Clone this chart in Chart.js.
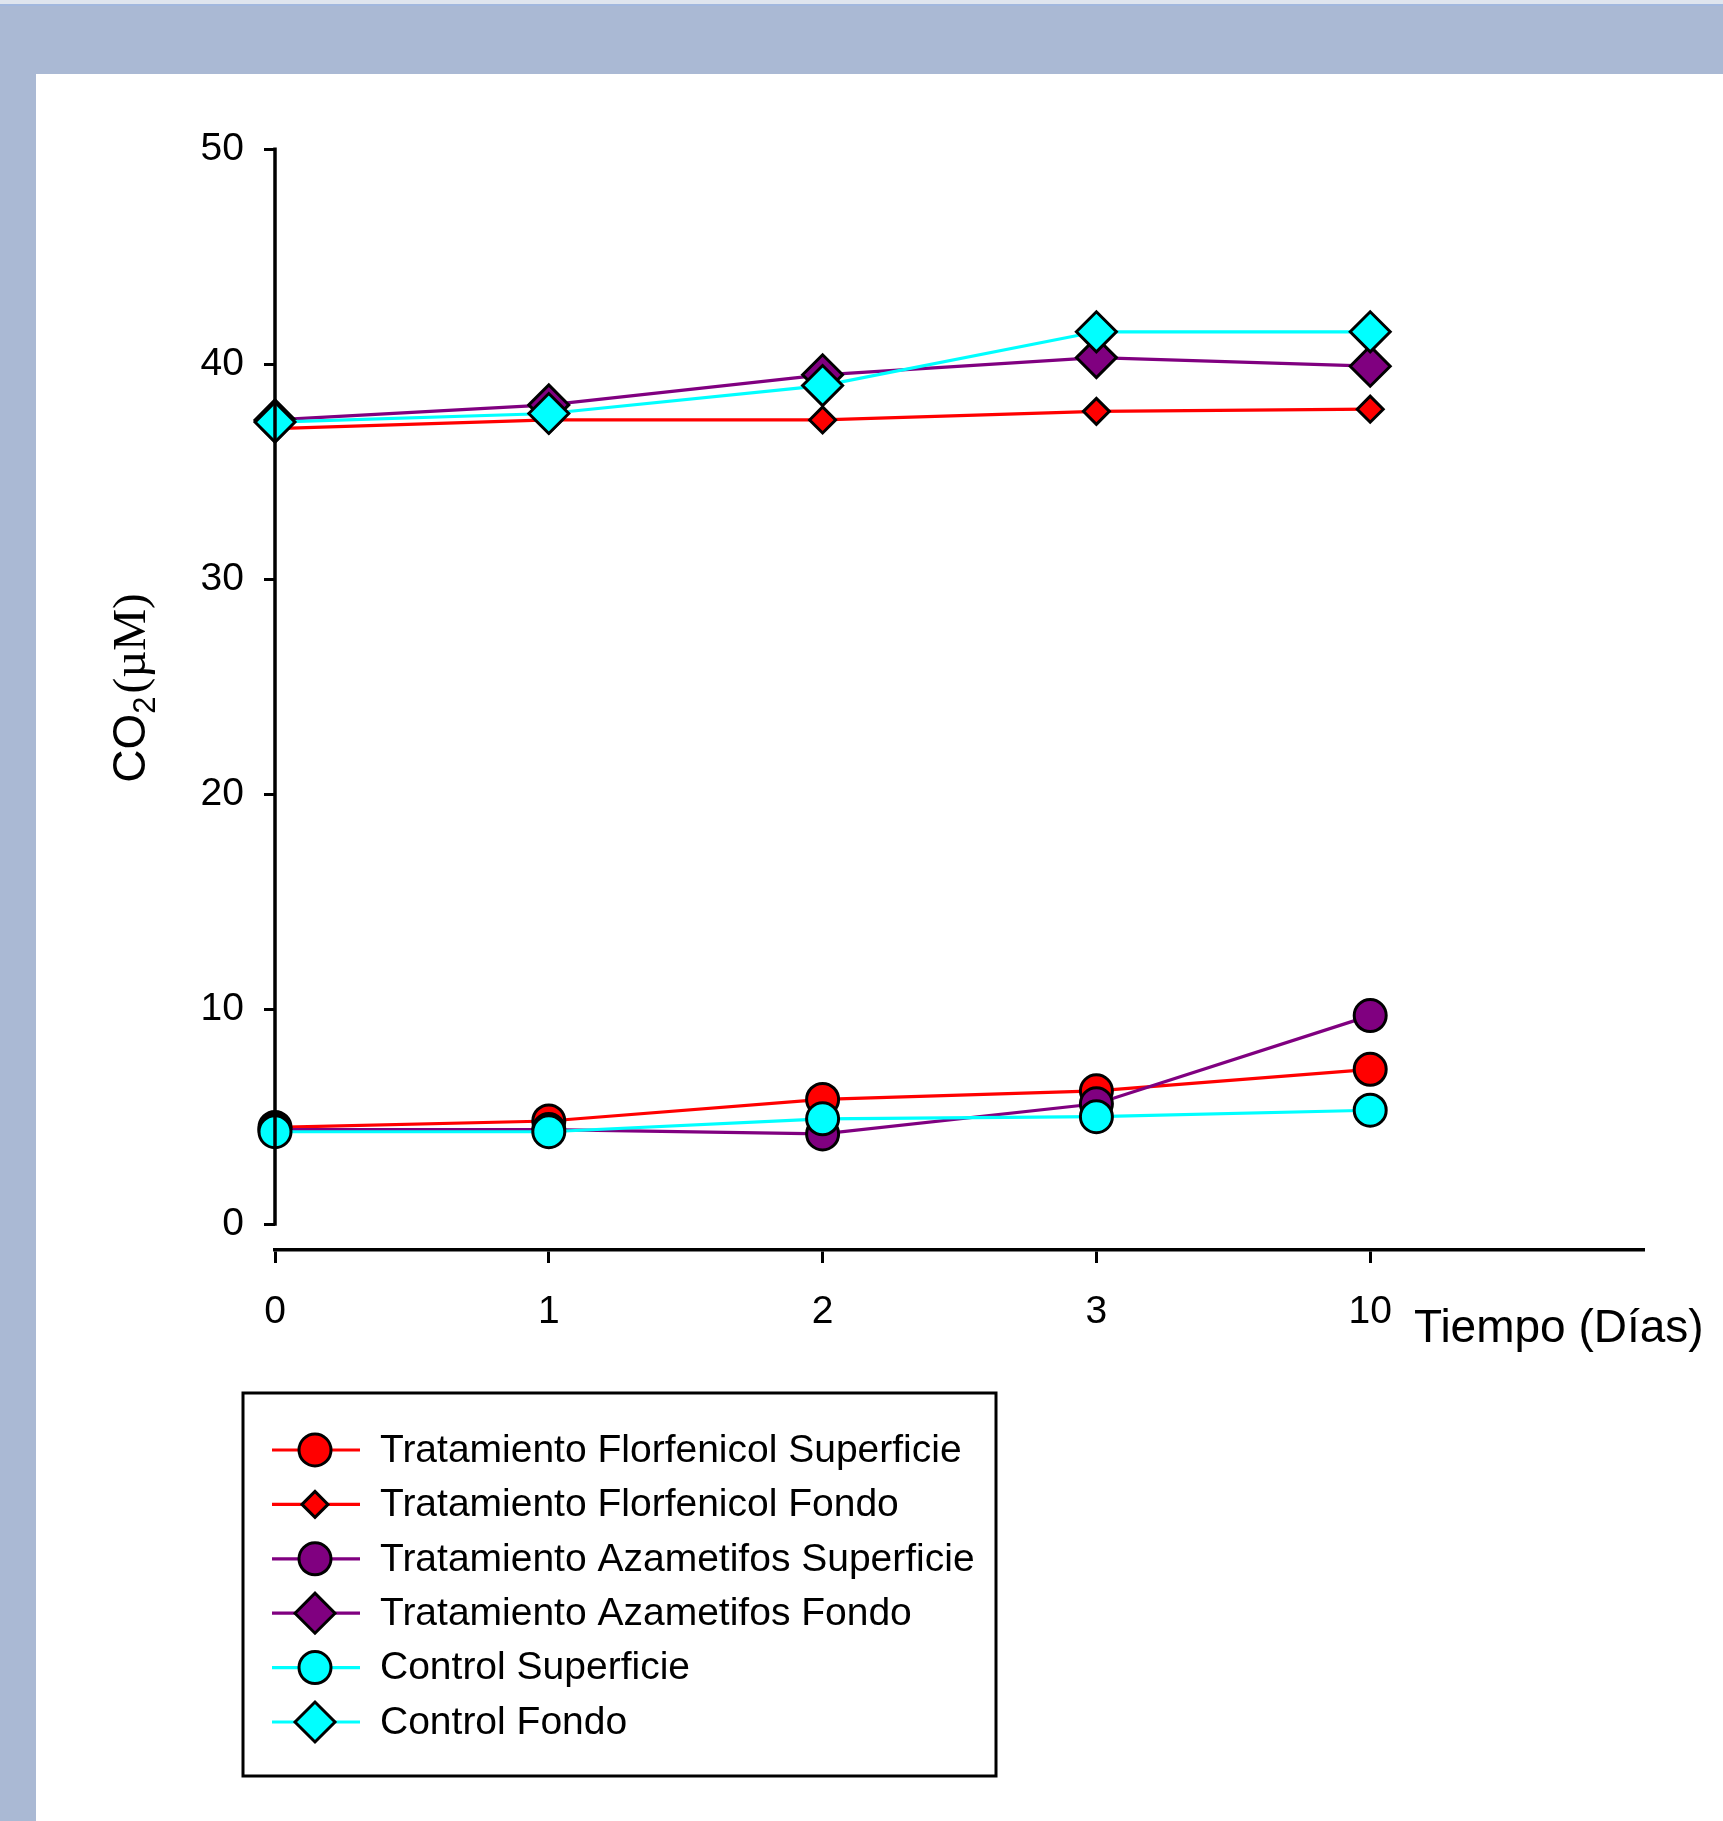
<!DOCTYPE html>
<html>
<head>
<meta charset="utf-8">
<title>CO2 (µM) vs Tiempo (Días)</title>
<script src="https://cdn.jsdelivr.net/npm/chart.js@4.4.1/dist/chart.umd.min.js"></script>
<style>
  html, body { margin: 0; padding: 0; overflow: hidden; width: 1723px; height: 1821px; background: #aab9d4; }
  #topline1 { position: absolute; left: 0; top: 0; width: 1723px; height: 4px; background: #dfe5ee; }
  #topline2 { position: absolute; left: 0; top: 4px; width: 1723px; height: 2px; background: #a2b8de; }
  #panel { position: absolute; left: 36px; top: 74px; right: 0; bottom: 0; background: #ffffff; }
  #wrap { position: absolute; left: 0; top: 0; width: 1723px; height: 1821px; }
</style>
</head>
<body>
<div id="topline1"></div>
<div id="topline2"></div>
<div id="panel"></div>
<div id="wrap"><canvas id="c" width="1723" height="1821"></canvas></div>
<script>
// ---------------- DATA ----------------
const categories = ['0', '1', '2', '3', '10', ''];
const yTickValues = [0, 10, 20, 30, 40, 50];
const seriesNames = [
  'Tratamiento Florfenicol Superficie',
  'Tratamiento Florfenicol Fondo',
  'Tratamiento Azametifos Superficie',
  'Tratamiento Azametifos Fondo',
  'Control Superficie',
  'Control Fondo'
];
const florfenicolSuperficie = [4.5, 4.8, 5.8, 6.2, 7.2];
const florfenicolFondo      = [37.0, 37.4, 37.4, 37.8, 37.9];
const azametifosSuperficie  = [4.4, 4.4, 4.2, 5.6, 9.7];
const azametifosFondo       = [37.4, 38.1, 39.5, 40.3, 39.9];
const controlSuperficie     = [4.3, 4.3, 4.9, 5.0, 5.3];
const controlFondo          = [37.3, 37.7, 39.0, 41.5, 41.5];
const xTitle = 'Tiempo (Días)';

// ---------------- STYLE ----------------
const RED = '#ff0000', PURPLE = '#800080', CYAN = '#00ffff';
const FONT = 'Arial, "Liberation Sans", sans-serif';

function ds(i, data, color, style, radius) {
  return {
    label: seriesNames[i],
    data: data,
    borderColor: color,
    borderWidth: 3.2,
    pointStyle: style,
    pointRadius: radius,
    pointHoverRadius: radius,
    pointBackgroundColor: color,
    pointBorderColor: '#000000',
    pointBorderWidth: 3,
    fill: false,
    tension: 0,
    clip: false,
    order: 6 - i
  };
}

const datasets = [
  ds(0, florfenicolSuperficie, RED, 'circle', 16),
  ds(1, florfenicolFondo, RED, 'rectRot', 13),
  ds(2, azametifosSuperficie, PURPLE, 'circle', 16),
  ds(3, azametifosFondo, PURPLE, 'rectRot', 20),
  ds(4, controlSuperficie, CYAN, 'circle', 16),
  ds(5, controlFondo, CYAN, 'rectRot', 20)
];

// custom drawing: y axis line (0..50), axis titles, legend box
const extras = {
  id: 'extras',
  afterDraw(chart) {
    const ctx = chart.ctx;
    const y = chart.scales.y;
    const area = chart.chartArea;
    // y axis line from 0 to 50
    ctx.save();
    ctx.strokeStyle = '#000';
    ctx.lineWidth = 3.5;
    ctx.beginPath();
    ctx.moveTo(area.left, y.getPixelForValue(yTickValues[yTickValues.length - 1]) - 1.5);
    ctx.lineTo(area.left, y.getPixelForValue(yTickValues[0]) + 1.5);
    ctx.stroke();

    // x axis title
    ctx.fillStyle = '#000';
    ctx.font = '46px ' + FONT;
    ctx.textBaseline = 'middle';
    ctx.textAlign = 'left';
    ctx.fillText(xTitle, 1414, 1329);

    // y axis title CO2(µM) rotated
    ctx.save();
    ctx.translate(129, 688);
    ctx.rotate(-Math.PI / 2);
    ctx.textBaseline = 'alphabetic';
    ctx.textAlign = 'left';
    const f1 = '46px ' + FONT, f2 = '31px ' + FONT, f3 = '47px "Liberation Serif", "Times New Roman", serif';
    ctx.font = f1; const w1 = ctx.measureText('CO').width;
    ctx.font = f2; const w2 = ctx.measureText('2').width;
    ctx.font = f3; const w3 = ctx.measureText('(µM)').width;
    let x0 = -(w1 + w2 + w3 + 3) / 2;
    const base = 16;
    ctx.font = f1; ctx.fillText('CO', x0, base); x0 += w1;
    ctx.font = f2; ctx.fillText('2', x0, base + 10); x0 += w2 + 3;
    ctx.font = f3; ctx.fillText('(µM)', x0, base);
    ctx.restore();

    // legend
    const bx = 243, by = 1393, bw = 753, bh = 383;
    ctx.fillStyle = '#fff';
    ctx.fillRect(bx, by, bw, bh);
    ctx.strokeStyle = '#000';
    ctx.lineWidth = 3;
    ctx.strokeRect(bx, by, bw, bh);
    chart.data.datasets.forEach((d, i) => {
      const cy = 1450 + i * 54.4;
      ctx.strokeStyle = d.borderColor;
      ctx.lineWidth = 3.2;
      ctx.beginPath();
      ctx.moveTo(272, cy);
      ctx.lineTo(360, cy);
      ctx.stroke();
      ctx.fillStyle = d.pointBackgroundColor;
      ctx.strokeStyle = '#000';
      ctx.lineWidth = 3;
      Chart.helpers.drawPoint(ctx, {
        pointStyle: d.pointStyle,
        radius: d.pointRadius,
        rotation: 0,
        borderWidth: 3
      }, 315, cy);
      ctx.fillStyle = '#000';
      ctx.font = '39px ' + FONT;
      ctx.textBaseline = 'middle';
      ctx.textAlign = 'left';
      ctx.fillText(d.label, 380, cy + 1);
    });
    ctx.restore();
  }
};

new Chart(document.getElementById('c'), {
  type: 'line',
  data: { labels: categories, datasets: datasets },
  options: {
    responsive: false,
    animation: false,
    events: [],
    layout: { padding: { left: 0, top: 149, right: 79, bottom: 0 } },
    plugins: { legend: { display: false }, tooltip: { enabled: false }, title: { display: false } },
    scales: {
      x: {
        type: 'category',
        offset: false,
        afterFit(scale) { scale.height = 1821 - 1250; },
        grid: {
          drawOnChartArea: false,
          drawTicks: true,
          tickLength: 13,
          tickWidth: 3,
          tickColor: (c) => (categories[c.index] === '' ? 'rgba(0,0,0,0)' : '#000')
        },
        border: { display: true, color: '#000', width: 3.5 },
        ticks: { color: '#000', font: { family: FONT, size: 39 }, padding: 26, maxRotation: 0, autoSkip: false }
      },
      y: {
        type: 'linear',
        min: -1.2,
        max: 50,
        afterFit(scale) { scale.width = 275; },
        afterBuildTicks(scale) { scale.ticks = yTickValues.map(v => ({ value: v })); },
        grid: {
          drawOnChartArea: false,
          drawTicks: true,
          tickLength: 11,
          tickWidth: 3,
          color: '#000',
          tickColor: '#000'
        },
        border: { display: false },
        ticks: { color: '#000', font: { family: FONT, size: 39 }, padding: 20 }
      }
    }
  },
  plugins: [extras]
});
</script>
</body>
</html>
